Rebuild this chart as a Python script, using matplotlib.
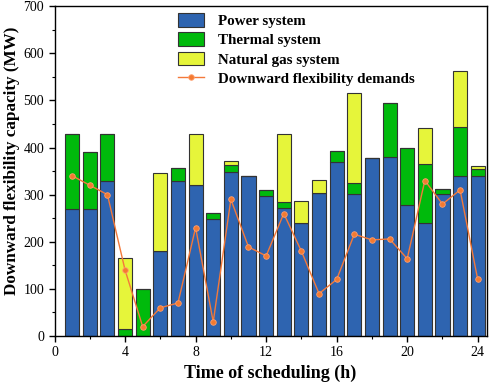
import matplotlib
matplotlib.use('Agg')
import matplotlib.pyplot as plt
from matplotlib.ticker import MultipleLocator
import numpy as np

hours = np.arange(1, 25)
power = [269, 270, 329, 0, 0, 180, 329, 320, 248, 349, 340, 297,
         271, 240, 304, 369, 301, 378, 379, 279, 240, 301, 339, 339]
thermal_top = [428, 390, 429, 15, 100, 180, 357, 320, 261, 362, 340, 310,
               284, 240, 304, 392, 324, 378, 495, 399, 365, 313, 443, 354]
gas_top = [428, 390, 429, 166, 100, 345, 357, 428, 261, 371, 340, 310,
           429, 287, 332, 392, 515, 378, 495, 399, 442, 313, 562, 361]
demand = [340, 320, 300, 140, 20, 60, 70, 230, 30, 290, 189, 170,
          260, 180, 90, 120, 216, 204, 206, 164, 330, 280, 310, 120]

power = np.array(power)
thermal = np.array(thermal_top) - power
gas = np.array(gas_top) - np.array(thermal_top)

plt.rcParams['font.family'] = 'Liberation Serif'

fig = plt.figure(figsize=(4.98, 3.86), dpi=100)
ax = fig.add_axes([0.1095, 0.1295, 0.8675, 0.8545])

ec = '#333333'
b1 = ax.bar(hours, power, width=0.8, color='#2E64B0', edgecolor=ec, linewidth=0.8,
            label='Power system', zorder=2)
b2 = ax.bar(hours, thermal, width=0.8, bottom=power, color='#00BA0C', edgecolor=ec,
            linewidth=0.8, label='Thermal system', zorder=2)
b3 = ax.bar(hours, gas, width=0.8, bottom=np.array(thermal_top), color='#E6F53A',
            edgecolor=ec, linewidth=0.8, label='Natural gas system', zorder=2)
l1, = ax.plot(hours, demand, color='#F4793A', linewidth=1.0, marker='o', markersize=4,
              markerfacecolor='#F47A30', markeredgecolor='#FFA070', markeredgewidth=0.6,
              label='Downward flexibility demands', zorder=3)

ax.set_xlim(0, 24.5)
ax.set_ylim(0, 700)
ax.xaxis.set_major_locator(MultipleLocator(4))
ax.xaxis.set_minor_locator(MultipleLocator(2))
ax.yaxis.set_major_locator(MultipleLocator(100))
ax.yaxis.set_minor_locator(MultipleLocator(50))
ax.tick_params(which='major', direction='out', length=4, width=1, labelsize=10)
ax.tick_params(which='minor', direction='out', length=2.5, width=0.8)
for s in ax.spines.values():
    s.set_linewidth(1.0)

ax.set_xlabel('Time of scheduling (h)', fontsize=13, fontweight='bold', labelpad=4)
ax.set_ylabel('Downward flexibility capacity (MW)', fontsize=12.3, fontweight='bold')
ax.yaxis.set_label_coords(-0.08, 0.53)

leg = ax.legend([b1, b2, b3, l1],
                ['Power system', 'Thermal system', 'Natural gas system',
                 'Downward flexibility demands'],
                loc='upper left', bbox_to_anchor=(0.255, 1.02), frameon=False,
                prop={'weight': 'bold', 'size': 10.8}, handlelength=1.75,
                handleheight=1.0, labelspacing=0.3, handletextpad=0.9)

fig.savefig('out.png', dpi=100)
